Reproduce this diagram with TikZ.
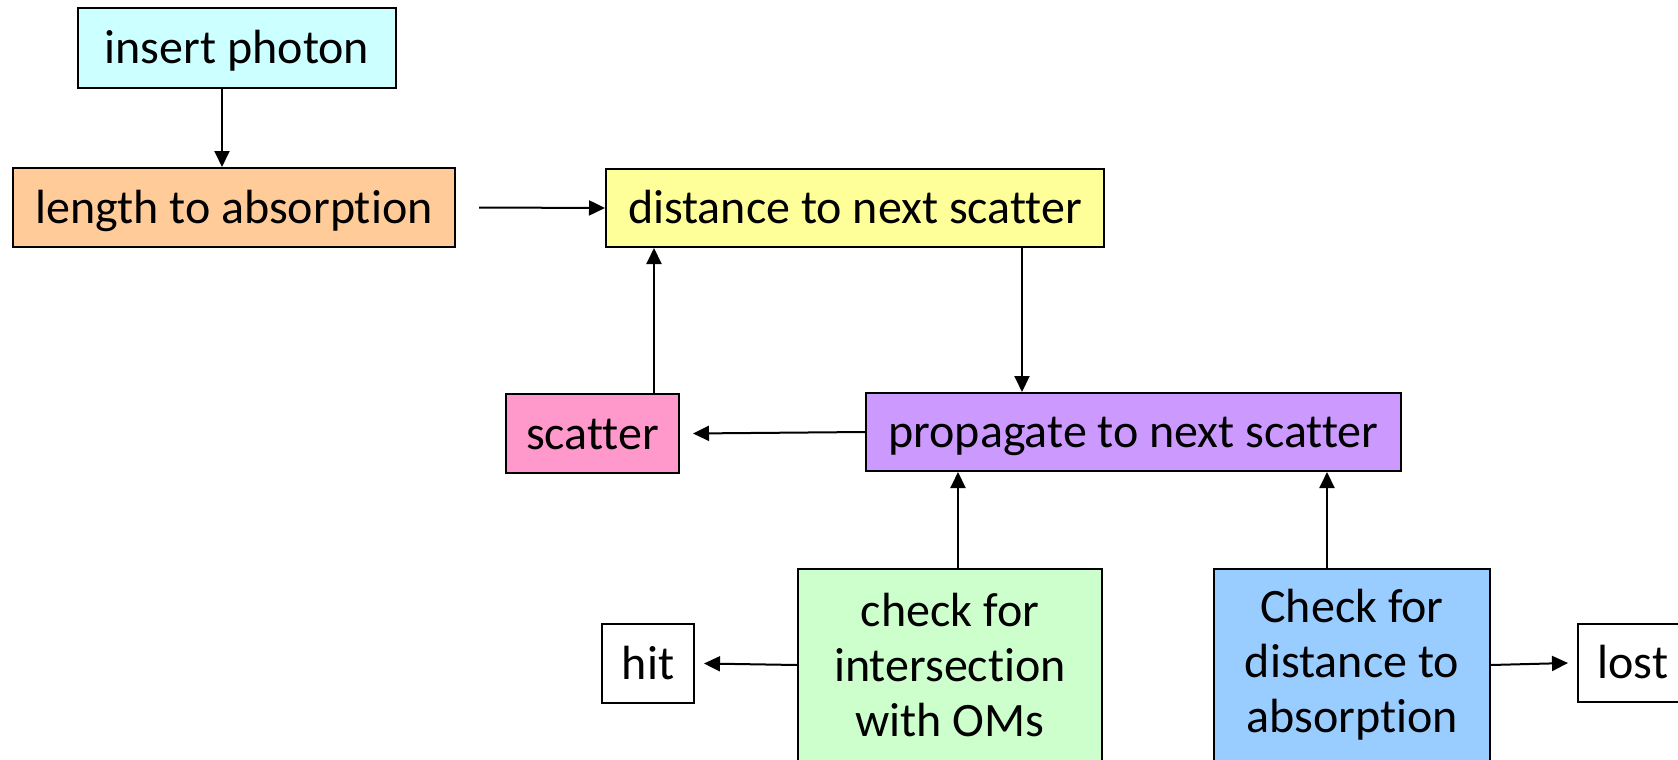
\documentclass[tikz,border=0pt]{standalone}
\usepackage{fontspec}
\setmainfont{Carlito}[Ligatures=NoCommon]
\usetikzlibrary{arrows.meta}
\definecolor{cyanfill}{HTML}{CCFFFF}
\definecolor{peachfill}{HTML}{FFCC99}
\definecolor{yellowfill}{HTML}{FFFF99}
\definecolor{pinkfill}{HTML}{FF99CC}
\definecolor{violetfill}{HTML}{CC99FF}
\definecolor{greenfill}{HTML}{CCFFCC}
\definecolor{bluefill}{HTML}{99CCFF}
\begin{document}
\begin{tikzpicture}[x=1pt,y=-1pt,
  box/.style={draw=black, line width=2pt, inner sep=0pt, align=center,
    font=\fontsize{48}{55}\selectfont},
  oneline/.style={box, text height=35pt, text depth=4pt},
  link/.style={line width=2pt, -{Triangle[length=16pt,width=15pt]}}]
\useasboundingbox (0,0) rectangle (1678,760);
\clip (0,0) rectangle (1678,760);

% process boxes
\node[oneline, fill=cyanfill,   minimum width=318pt, minimum height=80pt]  (photon) at (237,48)     {insert photon};
\node[oneline, fill=peachfill,  minimum width=442pt, minimum height=79pt]  (length) at (234,207.5)  {length to absorption};
\node[oneline, fill=yellowfill, minimum width=498pt, minimum height=78pt]  (dist)   at (855,208)    {distance to next scatter};
\node[oneline, fill=pinkfill,   minimum width=173pt, minimum height=79pt]  (scat)   at (592.5,433.5){scatter};
\node[oneline, fill=violetfill, minimum width=535pt, minimum height=78pt]  (prop)   at (1133.5,432) {propagate to next scatter};
\node[box,     fill=greenfill,  minimum width=304pt, minimum height=192pt] (check)  at (950,665)    {check for\\intersection\\with OMs};
\node[box,     fill=bluefill,   minimum width=276pt, minimum height=192pt] (absorb) at (1352,665)   {Check for\\distance to\\absorption};
\node[oneline, fill=white,      minimum width=92pt,  minimum height=79pt]  (hit)    at (648,663.5)  {hit};
\node[oneline, fill=white,      minimum width=110pt, minimum height=78pt]  (lost)   at (1633,663)   {lost};

% flow
\draw[link] ([xshift=-15pt]photon.south) -- ([xshift=-12pt]length.north);
\draw[link] ([xshift=23pt]length.east) -- (dist.west);
\draw[link] ([xshift=167pt]dist.south) -- ([xshift=167pt]dist.south |- prop.north);
\draw[link] (prop.west) -- ([xshift=13pt]scat.east);
\draw[link] ([xshift=61.5pt]scat.north) -- ([xshift=61.5pt]scat.north |- dist.south);
\draw[link] ([xshift=8pt]check.north) -- ([xshift=8pt]check.north |- prop.south);
\draw[link] ([xshift=-25pt]absorb.north) -- ([xshift=-25pt]absorb.north |- prop.south);
\draw[link] (check.west) -- ([xshift=9pt]hit.east);
\draw[link] (absorb.east) -- ([xshift=-9pt]lost.west);
\end{tikzpicture}
\end{document}
